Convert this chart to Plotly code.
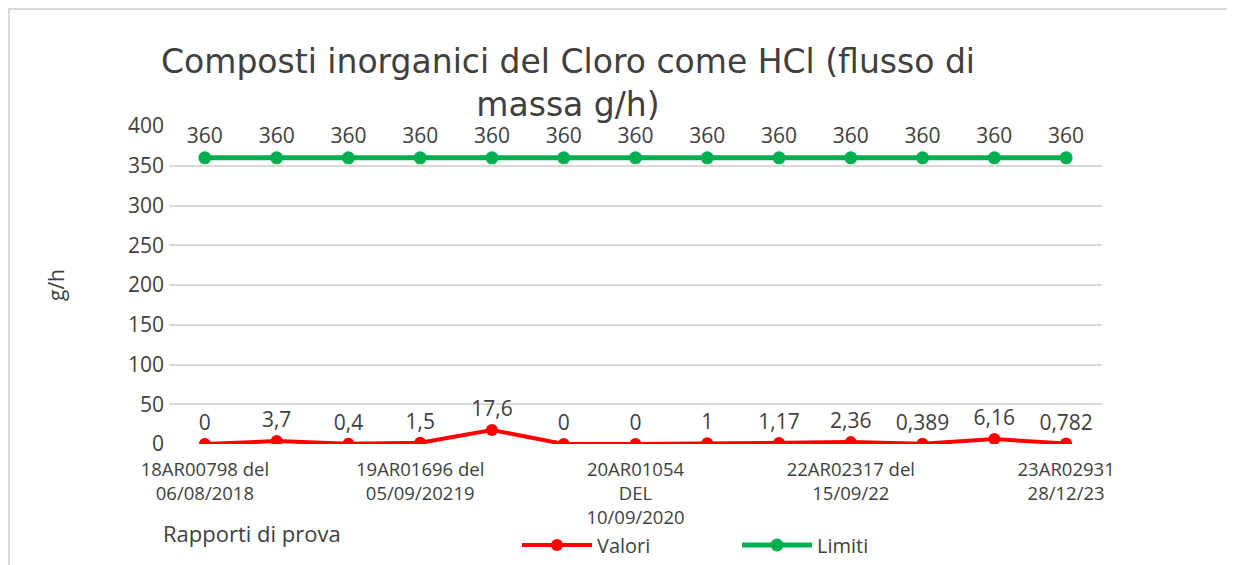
import plotly.graph_objects as go

# Data
positions = list(range(13))
valori = [0, 3.7, 0.4, 1.5, 17.6, 0, 0, 1, 1.17, 2.36, 0.389, 6.16, 0.782]
valori_labels = ["0", "3,7", "0,4", "1,5", "17,6", "0", "0", "1", "1,17", "2,36", "0,389", "6,16", "0,782"]
limiti = [360] * 13
limiti_labels = ["360"] * 13
tick_positions = [0, 3, 6, 9, 12]
tick_labels = [
    "18AR00798 del<br>06/08/2018",
    "19AR01696 del<br>05/09/20219",
    "20AR01054<br>DEL<br>10/09/2020",
    "22AR02317 del<br>15/09/22",
    "23AR02931<br>28/12/23",
]
y_ticks = [0, 50, 100, 150, 200, 250, 300, 350, 400]

FONT = "Open Sans"
TXT = "#404040"
OFF = 8  # page body margin
W, H = 1235 - OFF, 565 - OFF
# plot area in window pixels: left 169, right 1102, top 126, bottom 444
PL, PR, PT, PB = 169 - OFF, 1102 - OFF, 126 - OFF, 444 - OFF
L, R, T, B = PL, W - PR, PT, H - PB
PW, PH = PR - PL, PB - PT


def px(xw):
    return (xw - OFF - PL) / PW


def py(yw):
    return (PB - (yw - OFF)) / PH


fig = go.Figure()
fig.add_trace(go.Scatter(
    x=positions, y=valori, name="Valori", mode="lines+markers+text",
    text=valori_labels, textposition="top center",
    textfont=dict(family=FONT, size=21, color=TXT),
    line=dict(color="#FF0000", width=4), marker=dict(color="#FF0000", size=12),
))
fig.add_trace(go.Scatter(
    x=positions, y=limiti, name="Limiti", mode="lines+markers+text",
    text=limiti_labels, textposition="top center",
    textfont=dict(family=FONT, size=21, color=TXT),
    line=dict(color="#00B050", width=5), marker=dict(color="#00B050", size=13),
))

fig.update_layout(
    width=W, height=H,
    margin=dict(l=L, r=R, t=T, b=B, autoexpand=False),
    paper_bgcolor="white", plot_bgcolor="white",
    font=dict(family=FONT, color=TXT),
    title=dict(
        text="Composti inorganici del Cloro come HCl (flusso di<br>massa g/h)",
        x=(568 - OFF) / W, xanchor="center", y=1 - (73 - OFF) / H, yanchor="middle",
        yref="container", xref="container",
        font=dict(family="DejaVu Sans", size=33, color=TXT),
    ),
    xaxis=dict(
        range=[-0.5, 12.5], tickmode="array", tickvals=tick_positions, ticktext=tick_labels,
        showgrid=False, zeroline=False, showline=False, ticks="",
        tickfont=dict(family=FONT, size=18.5, color=TXT), ticklabelstandoff=12,
        automargin=False,
    ),
    yaxis=dict(
        range=[0, 400], tickvals=y_ticks, showgrid=True, gridcolor="#d9d9d9", gridwidth=2,
        zeroline=False, showline=False, ticks="",
        tickfont=dict(family=FONT, size=21, color=TXT), ticklabelstandoff=4,
        title=dict(text="g/h", font=dict(family=FONT, size=21, color=TXT), standoff=57),
        automargin=False,
    ),
    legend=dict(
        orientation="h", x=px(517), xanchor="left",
        y=py(545), yanchor="middle", bgcolor="rgba(0,0,0,0)",
        font=dict(family=FONT, size=20, color=TXT), itemwidth=70,
        entrywidth=135, entrywidthmode="pixels",
    ),
    showlegend=True,
    shapes=[
        dict(type="line", xref="paper", yref="paper",
             x0=px(OFF), x1=px(1235), y0=py(OFF + 1), y1=py(OFF + 1),
             line=dict(color="#d9d9d9", width=2)),
        dict(type="line", xref="paper", yref="paper",
             x0=px(OFF + 1), x1=px(OFF + 1), y0=py(OFF), y1=py(565),
             line=dict(color="#d9d9d9", width=2)),
    ],
    annotations=[
        dict(text="Rapporti di prova", xref="paper", yref="paper",
             x=px(252), y=py(533),
             xanchor="center", yanchor="middle", showarrow=False,
             font=dict(family=FONT, size=22, color=TXT)),
    ],
)

fig.write_html("out.html")
